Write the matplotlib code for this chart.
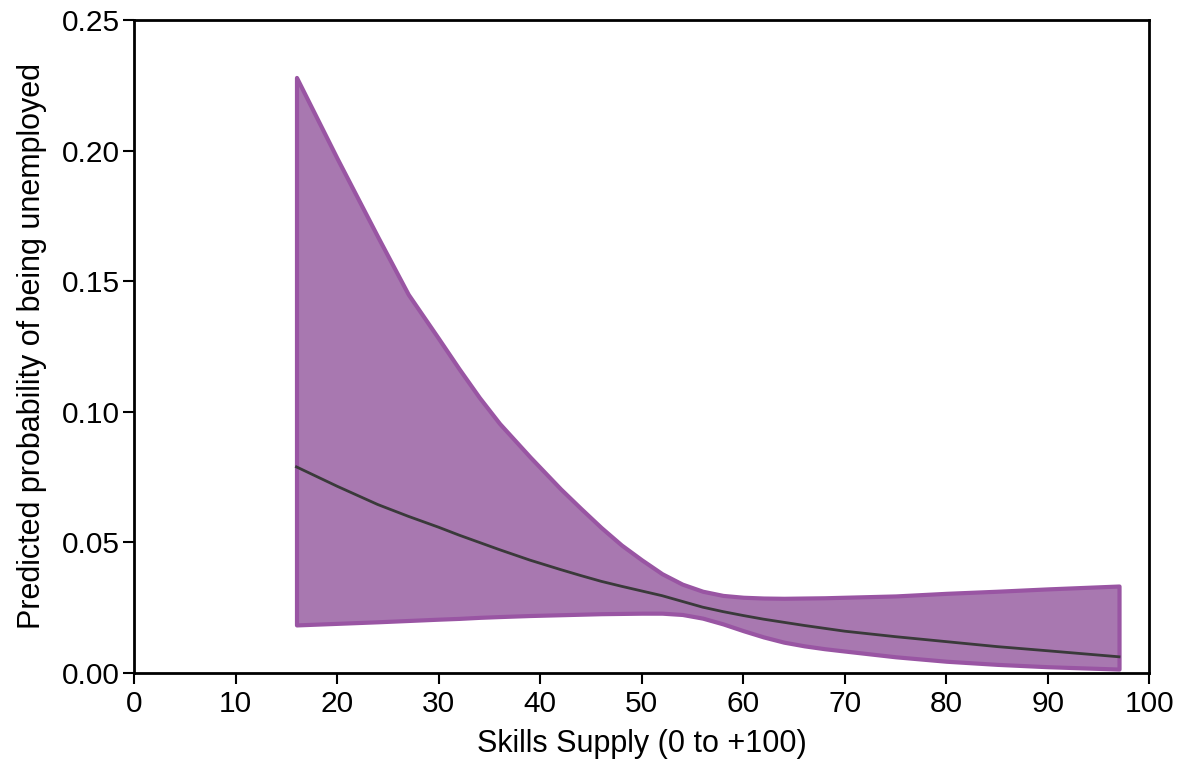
import matplotlib
matplotlib.use("Agg")
import matplotlib.pyplot as plt

plt.rcParams['font.family'] = ['Liberation Sans', 'DejaVu Sans']

# Skills supply grid and predicted probabilities with confidence bounds
skills = [16, 20, 24, 27, 30, 32, 34, 36, 39, 42, 44, 46, 48, 50, 52, 54, 56, 58,
          60, 62, 64, 66, 68, 70, 75, 80, 85, 90, 97]
upper = [0.228, 0.197, 0.167, 0.145, 0.128, 0.1165, 0.1055, 0.0955, 0.0827, 0.0705,
         0.0630, 0.0557, 0.0490, 0.0433, 0.0380, 0.0340, 0.0313, 0.0297,
         0.0290, 0.0287, 0.0286, 0.0287, 0.0288, 0.0290, 0.0295, 0.0305, 0.0313, 0.0322, 0.0333]
lower = [0.0184, 0.0190, 0.0196, 0.0201, 0.0206, 0.0209, 0.0213, 0.0216, 0.0220, 0.0223,
         0.0225, 0.0227, 0.0228, 0.0229, 0.0229, 0.0224, 0.0210, 0.0188,
         0.0162, 0.0138, 0.0118, 0.0104, 0.0093, 0.0084, 0.0062, 0.0045, 0.0033, 0.0024, 0.0015]
predicted = [0.0789, 0.0715, 0.0645, 0.0600, 0.0558, 0.0528, 0.0500, 0.0472, 0.0432, 0.0396,
             0.0373, 0.0351, 0.0332, 0.0314, 0.0296, 0.0274, 0.0252, 0.0235,
             0.0220, 0.0206, 0.0194, 0.0182, 0.0171, 0.0160, 0.0139, 0.0120, 0.0101, 0.0085, 0.0062]

xticks = [0, 10, 20, 30, 40, 50, 60, 70, 80, 90, 100]
yticks = [0.00, 0.05, 0.10, 0.15, 0.20, 0.25]

fig = plt.figure(figsize=(11.87, 7.62), dpi=100)
ax = fig.add_axes([0.1129, 0.1168, 0.8555, 0.857])

ax.fill_between(skills, lower, upper, facecolor='#a878b0', edgecolor='#9955a3',
                linewidth=3, joinstyle='round')
ax.plot(skills, predicted, color='#3a3a3a', linewidth=2)

ax.set_xlim(0, 100)
ax.set_ylim(0, 0.25)
ax.set_xticks(xticks)
ax.set_yticks(yticks)
ax.set_xticklabels([str(t) for t in xticks])
ax.set_yticklabels([f"{t:.2f}" for t in yticks])

for s in ax.spines.values():
    s.set_linewidth(2)
    s.set_color('black')
ax.tick_params(direction='out', length=8, width=1.5, labelsize=21.5)
ax.tick_params(axis='x', pad=4)
ax.tick_params(axis='y', pad=2)

ax.set_xlabel('Skills Supply (0 to +100)', fontsize=22, labelpad=8)
ax.set_ylabel('Predicted probability of being unemployed', fontsize=22, labelpad=11)

fig.savefig('out.png', dpi=100)
